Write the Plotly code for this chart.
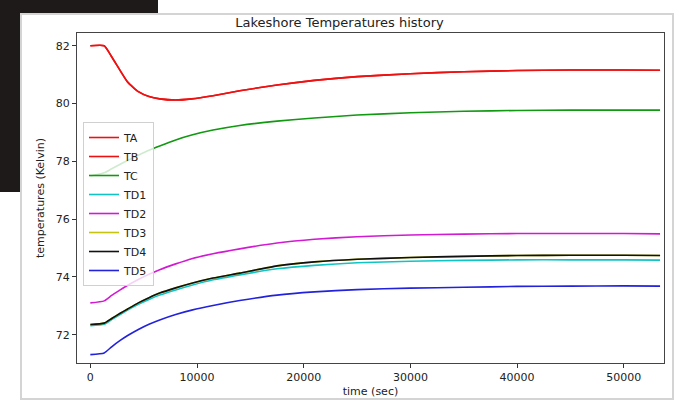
import plotly.graph_objects as go

# time samples (sec)
time_sec = [0, 1300, 2000, 2800, 3500, 4500, 5500, 6500, 8000, 9500, 11500,
            14000, 17500, 21000, 25000, 30000, 35000, 40000, 45000, 50000, 53400]

TA = [82.0, 82.0, 81.62, 81.14, 80.74, 80.41, 80.24, 80.16, 80.12, 80.16, 80.27,
      80.44, 80.64, 80.80, 80.93, 81.03, 81.10, 81.14, 81.16, 81.16, 81.15]
TB = [82.0, 82.0, 81.62, 81.14, 80.74, 80.41, 80.24, 80.16, 80.12, 80.16, 80.27,
      80.44, 80.64, 80.80, 80.93, 81.03, 81.10, 81.14, 81.16, 81.16, 81.15]
TC = [77.49, 77.60, 77.74, 77.90, 78.03, 78.21, 78.38, 78.53, 78.74, 78.91, 79.08,
      79.24, 79.39, 79.50, 79.60, 79.68, 79.73, 79.76, 79.77, 79.77, 79.77]
TD1 = [72.31, 72.36, 72.52, 72.70, 72.85, 73.05, 73.22, 73.37, 73.55, 73.71, 73.90,
       74.07, 74.28, 74.40, 74.49, 74.54, 74.57, 74.59, 74.59, 74.59, 74.58]
TD2 = [73.10, 73.17, 73.36, 73.55, 73.71, 73.91, 74.09, 74.25, 74.45, 74.63, 74.80,
       74.97, 75.17, 75.30, 75.39, 75.45, 75.48, 75.50, 75.50, 75.50, 75.49]
TD3 = [72.35, 72.40, 72.56, 72.74, 72.89, 73.10, 73.28, 73.44, 73.62, 73.78, 73.96,
       74.13, 74.38, 74.52, 74.61, 74.67, 74.71, 74.74, 74.75, 74.75, 74.74]
TD4 = [72.35, 72.40, 72.56, 72.74, 72.89, 73.10, 73.28, 73.44, 73.62, 73.78, 73.96,
       74.13, 74.38, 74.52, 74.61, 74.67, 74.71, 74.74, 74.75, 74.75, 74.74]
TD5 = [71.31, 71.37, 71.58, 71.80, 71.97, 72.18, 72.36, 72.51, 72.70, 72.85, 73.01,
       73.18, 73.37, 73.48, 73.56, 73.61, 73.64, 73.67, 73.68, 73.69, 73.68]

series_names = ["TA", "TB", "TC", "TD1", "TD2", "TD3", "TD4", "TD5"]
series_vals = [TA, TB, TC, TD1, TD2, TD3, TD4, TD5]
series_colors = ["#ee1111", "#ee1111", "#119911", "#11c4c4", "#d21ad2",
                 "#c4c411", "#111111", "#2222dd"]

x_ticks = [0, 10000, 20000, 30000, 40000, 50000]
y_ticks = [72, 74, 76, 78, 80, 82]

fig = go.Figure()
for name, vals, col in zip(series_names, series_vals, series_colors):
    fig.add_trace(go.Scatter(x=time_sec, y=vals, name=name, mode="lines",
                             line=dict(color=col, width=1.6, shape="spline", smoothing=0.5)))

W, H = 679, 408
L, R, T, B = 77, 15, 33, 45
pw, ph = W - L - R, H - T - B


def px(xp):
    return (xp - L) / pw


def py(yp):
    return (H - B - yp) / ph


shapes = [
    # screenshot background (dark window at the top-left)
    dict(type="rect", xref="paper", yref="paper", x0=px(0), x1=px(21), y0=py(192), y1=py(0),
         fillcolor="#1d1a19", line=dict(width=0), layer="below"),
    dict(type="rect", xref="paper", yref="paper", x0=px(0), x1=px(158), y0=py(14), y1=py(0),
         fillcolor="#1d1a19", line=dict(width=0), layer="below"),
    # window frame
    dict(type="rect", xref="paper", yref="paper", x0=px(21), x1=px(673), y0=py(399), y1=py(14),
         fillcolor="rgba(0,0,0,0)", line=dict(color="#d4d4d4", width=2), layer="below"),
]

fig.update_layout(
    width=W, height=H,
    margin=dict(l=L, r=R, t=T, b=B),
    paper_bgcolor="white", plot_bgcolor="white",
    font=dict(family="DejaVu Sans", size=11, color="#222222"),
    title=dict(text="Lakeshore Temperatures history", x=px(370.5), xanchor="center",
               y=1 - 22 / H, yanchor="middle", font=dict(size=13, color="#222222")),
    xaxis=dict(range=[-1250, 53770], tickvals=x_ticks, tickformat="d", ticks="outside",
               ticklen=4, tickcolor="#333", showgrid=False, zeroline=False, showline=True,
               linecolor="#444", linewidth=1, mirror=True,
               title=dict(text="time (sec)", standoff=4, font=dict(size=11))),
    yaxis=dict(range=[71.02, 82.44], tickvals=y_ticks, ticks="outside", ticklen=4,
               tickcolor="#333", showgrid=False, zeroline=False, showline=True,
               linecolor="#444", linewidth=1, mirror=True,
               title=dict(text="temperatures (Kelvin)", standoff=8, font=dict(size=11))),
    legend=dict(x=px(83), y=py(122), xanchor="left", yanchor="top",
                bgcolor="rgba(255,255,255,0.8)", bordercolor="#d0d0d0", borderwidth=1,
                font=dict(size=11), tracegroupgap=0, itemwidth=30),
    showlegend=True,
    shapes=shapes,
)

fig.write_html("out.html")
